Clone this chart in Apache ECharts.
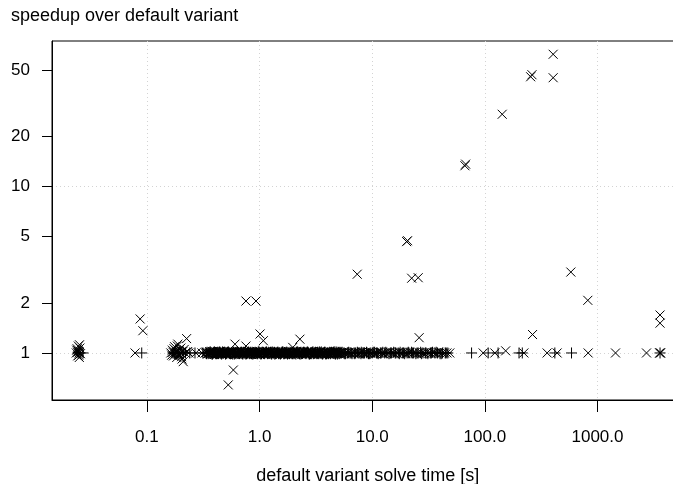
<!DOCTYPE html>
<html><head><meta charset="utf-8">
<script src="https://cdn.jsdelivr.net/npm/echarts@6/dist/echarts.min.js"></script>
<style>html,body{margin:0;padding:0;background:#fff}#c{width:673px;height:484px}</style>
</head><body><div id="c"></div>
<script>
// ---- "x" markers (pch 4): clusters and outliers ----
const crossX = [
  0.0236,0.0240,0.0243,0.0246,0.0249,0.0251,0.0254,0.0257,0.0244,0.0252,0.0238,0.0248,0.0250,0.0242,
  0.0784,0.087,0.092,
  0.163,0.166,0.168,0.170,0.172,0.174,0.176,0.178,0.180,0.182,0.184,0.186,0.188,0.190,0.192,
  0.194,0.196,0.198,0.200,0.203,0.205,0.208,0.210,0.214,0.218,0.225,0.230,0.235,0.272,0.308,
  0.527,0.585,0.605,0.757,0.757,0.929,1.01,1.08,1.97,2.28,
  7.36,20.2,20.6,22.4,25.6,26.1,66.5,67.5,142.5,255,262,404,404,
  265,153,580,820,3590,3590,
  96.6,122.7,222,357,438,826,1445,2722,3560,3600,3630
];
const crossY = [
  1.00,1.06,0.96,1.10,1.02,0.94,1.07,0.99,1.03,1.12,1.04,0.97,1.00,1.01,
  1.00,1.60,1.36,
  1.00,0.97,1.04,1.01,0.96,1.06,1.09,0.99,1.01,1.03,0.94,1.10,1.13,0.98,1.03,
  1.05,0.97,1.00,1.07,0.95,0.92,1.02,0.887,1.05,1.00,1.22,1.02,1.00,1.00,1.00,
  0.643,0.79,1.13,1.10,2.05,2.05,1.30,1.185,1.08,1.21,
  2.97,4.66,4.72,2.81,2.83,1.235,13.3,13.6,27.1,45.5,46.8,62.1,44.9,
  1.29,1.03,3.06,2.07,1.69,1.51,
  1.00,1.00,1.00,1.00,1.00,1.00,1.00,1.00,1.00,1.00,1.00
];
// ---- "x" markers in the dense band at speedup ~1 ----
const bandCrossX = [
  0.330,0.338,0.346,0.352,0.361,0.369,0.377,0.386,0.394,0.403,
  0.412,0.424,0.433,0.441,0.452,0.463,0.474,0.486,0.497,0.509,
  0.521,0.536,0.548,0.561,0.577,0.590,0.604,0.619,0.636,0.651,
  0.668,0.684,0.701,0.719,0.738,0.757,0.775,0.796,0.815,0.838,
  0.859,0.880,0.903,0.926,0.950,0.975,1.00,1.03,1.05,1.08,
  1.11,1.14,1.17,1.20,1.23,1.26,1.29,1.33,1.36,1.40,
  1.44,1.47,1.51,1.55,1.59,1.63,1.68,1.72,1.77,1.81,
  1.86,1.91,1.96,2.01,2.07,2.12,2.18,2.23,2.29,2.36,
  2.42,2.48,2.55,2.61,2.68,2.76,2.83,2.90,2.98,3.06,
  3.14,3.22,3.31,3.40,3.49,3.58,3.67,3.77,3.87,3.98,
  4.08,4.19,4.30,4.42,4.53,4.66,4.78,4.90,5.03,5.17,
  5.31,5.52,5.66,5.90,6.12,6.25,6.48,6.80,7.02,7.21,
  7.55,7.83,8.10,8.42,8.70,9.15,9.40,9.82,10.3,10.7,
  11.0,11.5,12.2,12.6,13.1,13.9,14.4,15.2,15.8,16.6,
  17.3,18.1,18.9,19.9,20.8,21.6,22.9,23.8,24.9,26.2,
  27.6,28.8,30.5,32.0,33.4,35.2,37.0,39.1,41.6,43.8,
  46.0,48.8,
  0.334,0.349,0.365,0.381,0.399,0.418,0.437,0.458,0.480,0.503,
  0.528,0.554,0.583,0.611,0.643,0.676,0.710,0.747,0.786,0.827,
  0.869,0.914,0.962,1.010,1.065,1.120,1.180,1.250,1.310,1.380,
  1.460,1.530,1.610,1.700,1.790,1.890,1.990,2.100,2.210,2.330,
  2.450,2.580,2.720,2.870,3.020,3.180,3.350,3.530,3.720,3.930,
  4.140,4.360,4.600,4.840,5.100
];
const bandCrossY = [
  1.00,1.01,0.99,1.00,1.02,0.99,1.00,1.01,0.98,1.00,
  1.01,1.00,0.99,1.02,1.00,0.98,1.01,1.00,0.99,1.01,
  1.00,1.02,0.99,1.00,1.01,0.98,1.00,1.01,1.00,0.99,
  1.02,1.00,0.99,1.01,1.00,0.98,1.01,1.00,1.02,0.99,
  1.00,1.01,0.99,1.00,1.02,1.00,0.98,1.01,1.00,0.99,
  1.01,1.00,1.02,0.99,1.00,1.01,0.98,1.00,1.01,0.99,
  1.00,1.02,1.00,0.99,1.01,1.00,0.98,1.01,1.00,1.02,
  0.99,1.00,1.01,0.98,1.00,1.02,0.99,1.00,1.01,1.00,
  0.99,1.01,1.00,0.98,1.02,1.00,0.99,1.01,1.00,0.99,
  1.01,1.00,0.98,1.00,1.02,0.99,1.01,1.00,0.99,1.01,
  1.00,0.98,1.01,1.00,0.99,1.02,1.00,1.01,0.99,1.00,
  1.00,1.01,0.99,1.00,1.00,1.01,0.99,1.00,1.01,1.00,
  0.99,1.00,1.01,1.00,0.99,1.00,1.01,1.00,1.00,0.99,
  1.00,1.01,1.00,0.99,1.00,1.00,1.01,1.00,0.99,1.00,
  1.01,1.00,1.00,0.99,1.00,1.01,1.00,1.00,0.99,1.00,
  1.00,1.00,1.01,1.00,0.99,1.00,1.00,1.01,1.00,1.00,
  1.00,1.00,
  1.01,0.99,1.00,1.02,0.98,1.00,1.01,0.99,1.02,1.00,
  0.99,1.01,1.00,0.98,1.02,1.00,0.99,1.01,1.00,0.98,
  1.02,1.00,0.99,1.01,1.00,0.98,1.01,1.02,1.00,0.99,
  1.00,1.01,0.98,1.00,1.02,0.99,1.00,1.01,0.99,1.00,
  1.02,0.99,1.00,1.01,0.98,1.00,1.01,0.99,1.00,1.01,
  1.00,0.99,1.01,1.00,1.00
];
// ---- "+" markers (pch 3): clusters and sparse points ----
const plusX = [
  0.0245,0.0255,0.0271,0.0899,
  0.170,0.175,0.180,0.185,0.190,0.200,0.210,0.220,0.240,0.267,0.314,
  76.2,107,131,201,215,418,588,3590
];
const plusY = [
  1,1,1,1,
  1,1,1,1,1,1,1,1,1,1,1,
  1,1,1,1,1,1,1,1
];
// ---- "+" markers in the dense band at speedup ~1 ----
const bandPlusX = [
  0.334,0.342,0.349,0.357,0.365,0.373,0.381,0.390,0.399,0.408,
  0.418,0.428,0.437,0.447,0.458,0.469,0.480,0.491,0.503,0.515,
  0.528,0.542,0.554,0.569,0.583,0.597,0.611,0.627,0.643,0.659,
  0.676,0.692,0.710,0.728,0.747,0.766,0.786,0.805,0.827,0.848,
  0.869,0.891,0.914,0.938,0.962,0.988,1.01,1.04,1.07,1.09,
  1.12,1.15,1.18,1.21,1.25,1.28,1.31,1.35,1.38,1.42,
  1.46,1.49,1.53,1.57,1.61,1.66,1.70,1.75,1.79,1.84,
  1.89,1.94,1.99,2.04,2.10,2.15,2.21,2.26,2.33,2.39,
  2.45,2.52,2.58,2.65,2.72,2.79,2.87,2.94,3.02,3.10,
  3.18,3.27,3.35,3.44,3.53,3.63,3.72,3.82,3.93,4.03,
  4.14,4.25,4.36,4.48,4.60,4.72,4.84,4.97,5.10,
  5.24,5.40,5.60,5.78,6.01,6.18,6.36,6.62,6.91,7.12,
  7.38,7.66,7.95,8.25,8.55,8.90,9.27,9.60,10.0,10.5,
  10.9,11.3,11.8,12.4,12.9,13.5,14.1,14.8,15.5,16.2,
  17.0,17.7,18.5,19.4,20.4,21.2,22.3,23.3,24.4,25.6,
  26.9,28.2,29.6,31.2,32.8,34.3,36.0,38.0,40.0,42.1,
  44.5,46.9,
  0.338,0.354,0.362,0.378,0.385,0.396,0.404,0.414,0.422,0.433,
  0.443,0.452,0.464,0.474,0.485,0.498,0.508,0.522,0.534,0.549,
  0.560,0.577,0.589,0.605,0.618,0.636,0.650,0.668,0.683,0.702,
  0.718,0.738,0.755,0.777,0.794,0.817,0.836,0.859,0.879,0.903,
  0.925,0.951,0.974,1.000,1.026,1.054,1.081,1.104,1.136,1.164,
  1.196,1.229,1.266,1.294,1.331,1.364,1.401,1.439,1.476,1.509,
  1.551,1.588,1.636,1.679,1.726,1.769,1.816,1.864,1.916,1.964,
  2.016,2.069,2.126,2.179,2.236,2.294,2.361,2.419,2.486,2.549,
  2.616,2.684,2.756,2.829,2.906,2.979,3.061,3.139,3.226,3.309,
  3.396,3.484,3.581,3.674,3.771,3.874,3.981,4.084,4.196,4.304,
  4.421,4.539,4.661,4.779,4.906,5.034,5.171,5.33,5.70,6.10,
  6.50,7.00,7.50,8.00,8.40,9.00,9.50,10.2,11.1,12.0,
  13.2,14.5,16.0,17.4,19.0,20.9,22.7,25.0,27.3,30.0,
  33.5,37.0,41.0,45.3
];
const bandPlusY = [
  1,1.01,0.99,1,1.015,1,0.985,1,1.01,0.99,
  1,0.99,1.01,1,0.985,1.015,1,1.01,0.99,1,
  1.015,1,0.99,1,1.01,0.985,1,1.01,1,0.99,
  1,1.01,0.985,1,1.015,0.99,1,1,1.01,0.99,
  0.985,1,1.01,1,0.99,1.015,1,0.99,1.01,1,
  1,1.015,0.99,1,1.01,0.985,1,1.01,0.99,1,
  1.01,1,0.985,1,1.015,0.99,1,1.01,1,0.99,
  1,0.99,1.015,1,0.985,1.01,1,0.99,1.01,1,
  1.01,1,0.99,1.015,1,0.985,1,1.01,0.99,1,
  1,1.01,0.99,1,1.015,0.985,1,1.01,0.99,1,
  1,0.99,1.01,1,1.015,0.985,1,1.01,0.99,
  1,1.01,1,0.99,1,1.01,1,0.99,1,1,
  1.01,1,0.99,1,1,1.01,0.99,1,1,1.01,
  1,0.99,1,1.01,1,1,0.99,1,1.01,1,
  1,1.01,1,0.99,1,1,1.01,1,0.99,1,
  1.01,1,1,0.99,1,1.01,1,1,0.99,1,
  1,1,
  0.99,1,1.01,0.985,1,1.015,1,0.99,1.01,1,
  1.015,1,0.99,1,1.01,0.985,1,1.01,1,0.99,
  1,0.985,1.01,1,0.99,1.015,1,1,1.01,0.99,
  1.01,1,0.985,1,1.015,0.99,1,1.01,0.99,1,
  1,0.99,1.015,1,0.985,1.01,1,0.99,1.01,1,
  1.01,1,0.99,1.015,1,0.985,1,1.01,0.99,1,
  1,1.015,0.99,1,1.01,0.985,1,1.01,1,0.99,
  0.99,1,1.01,1.015,1,0.985,0.99,1,1.01,1,
  1,1.01,0.985,1,0.99,1.015,1,1.01,0.99,1,
  1.015,1,0.99,1,1.01,0.985,1,0.99,1.01,1,
  1,1.01,0.99,1.015,0.985,1,1.01,1,0.99,1,
  1,0.99,1,1.01,1,1,0.99,1.01,1,1,
  1.01,1,1,0.99,1,1.01,1,1,0.99,1,
  1,1.01,0.99,1
];
const xTicks = [0.1, 1, 10, 100, 1000];
const yTicks = [1, 2, 5, 10, 20, 50];
const yGridTicks = [1, 10];

const pairs = (xs, ys) => xs.map((v, i) => [v, ys[i]]);
const gridStyle = { color: '#d3d3d3', type: [1, 3], width: 1 };
const font = 'Liberation Sans, Arial, sans-serif';
const crossSym = 'path://M0,0L10,10M10,0L0,10';
const plusSym = 'path://M5,0L5,10M0,5L10,5';
const markStyle = { color: '#000', borderColor: '#000', borderWidth: 1, opacity: 1 };

const chart = echarts.init(document.getElementById('c'), null, { renderer: 'canvas' });
chart.setOption({
  animation: false,
  backgroundColor: '#fff',
  title: {
    text: 'speedup over default variant',
    left: 6, top: 2,
    textStyle: { fontSize: 18, fontWeight: 'normal', color: '#000', fontFamily: font }
  },
  grid: {
    left: 52, right: -10.5, top: 41, bottom: 84,
    show: true, borderColor: '#000', borderWidth: 1, backgroundColor: 'transparent',
    outerBoundsMode: 'none'
  },
  xAxis: [{
    type: 'log', logBase: 10, min: 0.01436, max: 5800,
    name: 'default variant solve time [s]', nameLocation: 'middle', nameGap: 67,
    nameTextStyle: { fontSize: 18, color: '#000', fontFamily: font },
    axisLine: { show: true, lineStyle: { color: '#000', width: 1 } },
    axisTick: { show: true, customValues: xTicks, length: 12, lineStyle: { color: '#000', width: 1 } },
    axisLabel: { customValues: xTicks, margin: 29, fontSize: 17, color: '#000', fontFamily: font,
      formatter: v => Number(v).toFixed(1) },
    splitLine: { show: true, lineStyle: gridStyle },
    minorTick: { show: false }, minorSplitLine: { show: false }
  }],
  yAxis: [{
    type: 'log', logBase: 10, min: 0.522, max: 74.6,
    axisLine: { show: true, lineStyle: { color: '#000', width: 1 } },
    axisTick: { show: true, customValues: yTicks, length: 10, lineStyle: { color: '#000', width: 1 } },
    axisLabel: { customValues: yTicks, margin: 22, fontSize: 17, color: '#000', fontFamily: font,
      formatter: v => String(Math.round(v)) },
    splitLine: { show: false }
  }, {
    type: 'log', logBase: 10, min: 0.522, max: 74.6, position: 'left',
    axisLine: { show: false }, axisLabel: { show: false },
    axisTick: { show: false, customValues: yGridTicks },
    splitLine: { show: true, lineStyle: gridStyle }
  }],
  series: [{
    type: 'scatter', name: 'x', silent: true,
    symbol: crossSym, symbolSize: 9, itemStyle: markStyle,
    data: pairs(bandCrossX, bandCrossY).concat(pairs(crossX, crossY))
  }, {
    type: 'scatter', name: '+', silent: true,
    symbol: plusSym, symbolSize: 11, itemStyle: markStyle,
    data: pairs(bandPlusX, bandPlusY).concat(pairs(plusX, plusY))
  }]
});
</script>
</body></html>
